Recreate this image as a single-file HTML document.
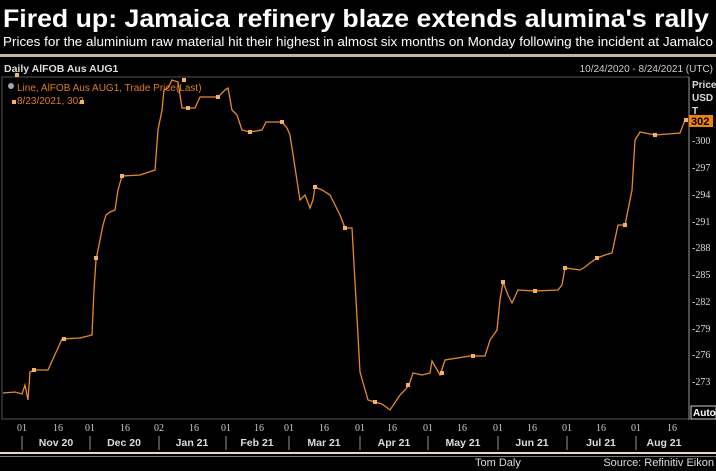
<!DOCTYPE html><html><head><style>
body{margin:0;width:716px;height:471px;background:#000;overflow:hidden;font-family:"Liberation Sans",sans-serif;color:#fff}
</style></head><body>
<svg width="716" height="471" viewBox="0 0 716 471" xmlns="http://www.w3.org/2000/svg" style="position:absolute;left:0;top:0">
<rect width="716" height="471" fill="#000"/>
<text x="3" y="27" font-size="25" font-weight="bold" fill="#fff" textLength="706" lengthAdjust="spacingAndGlyphs">Fired up: Jamaica refinery blaze extends alumina's rally</text>
<text x="3" y="46" font-size="12.5" fill="#fff" textLength="710" lengthAdjust="spacingAndGlyphs">Prices for the aluminium raw material hit their highest in almost six months on Monday following the incident at Jamalco</text>
<rect x="0" y="54" width="716" height="3" fill="#c8b49a"/>
<text x="4" y="72" font-size="10.5" font-weight="bold" fill="#ddd">Daily AlFOB Aus AUG1</text>
<text x="713" y="72" font-size="10" fill="#ccc" text-anchor="end">10/24/2020 - 8/24/2021 (UTC)</text>
<rect x="2" y="77" width="687" height="342" fill="none" stroke="#555" stroke-width="1"/>
<line x1="689" y1="77" x2="689" y2="420" stroke="#999"/>
<text x="17" y="91" font-size="10" fill="#e07b20">Line, AlFOB Aus AUG1, Trade Price(Last)</text>
<text x="17" y="104" font-size="10" fill="#e07b20">8/23/2021, 302</text>
<circle cx="11" cy="86" r="3" fill="#9ab"/>
<g font-size="10" fill="#ddd" font-weight="bold">
<text x="692" y="88">Price</text><text x="692" y="101">USD</text><text x="692" y="114">T</text>
</g>
<rect x="689" y="115" width="24" height="12" fill="#f0820f"/>
<text x="691" y="125" font-size="11" fill="#000" font-weight="bold">302</text>
<g font-size="10" fill="#ddd" font-family="Liberation Serif,serif">
<text x="692" y="144">-300</text><text x="692" y="171">-297</text><text x="692" y="198">-294</text><text x="692" y="225">-291</text><text x="692" y="251">-288</text><text x="692" y="278">-285</text><text x="692" y="305">-282</text><text x="692" y="332">-279</text><text x="692" y="358">-276</text><text x="692" y="385">-273</text>
</g>
<rect x="691" y="406" width="25" height="13" fill="#000" stroke="#ccc"/>
<text x="693" y="416" font-size="10" font-weight="bold" fill="#fff">Auto</text>
<polyline fill="none" stroke="#e8892c" stroke-width="1.3" points="3,393 15,392 22,394 25,385 28,400 30,372 35,370 48,370 62,339 80,338 92,335 94,290 96,260 100,240 103,225 106,215 110,212 115,210 118,190 122,176 140,175 155,170 158,130 162,110 164,90 168,88 172,80 178,82 182,108 195,108 200,97 218,97 225,90 228,88 232,110 237,115 242,130 250,132 262,130 266,122 282,122 287,128 290,135 300,200 305,195 310,208 313,200 315,187 322,190 330,195 340,215 345,228 352,228 360,372 368,400 375,402 382,404 390,410 400,395 405,390 409,385 413,373 422,375 430,373 432,361 440,375 445,360 470,356 485,356 490,340 497,330 500,300 503,282 508,295 512,303 518,290 535,291 558,290 562,285 565,268 580,270 585,267 590,263 597,258 605,255 612,253 618,225 625,225 632,190 635,140 640,132 655,135 680,133 685,120 688,120"/>
<g fill="#f3b06a">
<rect x="32" y="368" width="4" height="4"/><rect x="62" y="337" width="4" height="4"/><rect x="94" y="256" width="4" height="4"/><rect x="120" y="174" width="4" height="4"/><rect x="182" y="78" width="4" height="4"/><rect x="186" y="106" width="4" height="4"/><rect x="216" y="95" width="4" height="4"/><rect x="248" y="130" width="4" height="4"/><rect x="280" y="120" width="4" height="4"/><rect x="313" y="185" width="4" height="4"/><rect x="343" y="226" width="4" height="4"/><rect x="373" y="400" width="4" height="4"/><rect x="406" y="383" width="4" height="4"/><rect x="440" y="371" width="4" height="4"/><rect x="471" y="354" width="4" height="4"/><rect x="501" y="280" width="4" height="4"/><rect x="533" y="289" width="4" height="4"/><rect x="563" y="266" width="4" height="4"/><rect x="595" y="256" width="4" height="4"/><rect x="623" y="223" width="4" height="4"/><rect x="653" y="133" width="4" height="4"/><rect x="684" y="118" width="4" height="4"/><rect x="15" y="73" width="4" height="4"/><rect x="12" y="100" width="4" height="4"/><rect x="80" y="100" width="4" height="4"/>
</g>
<g font-size="10" fill="#ccc" font-family="Liberation Serif,serif" text-anchor="middle">
<text x="22" y="431">01</text><text x="58" y="431">16</text><text x="90" y="431">01</text><text x="125" y="431">16</text><text x="159" y="431">02</text><text x="194" y="431">16</text><text x="226" y="431">01</text><text x="259" y="431">16</text><text x="289" y="431">01</text><text x="324" y="431">16</text><text x="360" y="431">01</text><text x="392" y="431">16</text><text x="428" y="431">01</text><text x="462" y="431">16</text><text x="498" y="431">01</text><text x="532" y="431">16</text><text x="567" y="431">01</text><text x="601" y="431">16</text><text x="636" y="431">01</text><text x="672" y="431">16</text>
</g>
<g stroke="#999">
<line x1="22" y1="436" x2="22" y2="450"/><line x1="90" y1="436" x2="90" y2="450"/><line x1="159" y1="436" x2="159" y2="450"/><line x1="226" y1="436" x2="226" y2="450"/><line x1="289" y1="436" x2="289" y2="450"/><line x1="360" y1="436" x2="360" y2="450"/><line x1="428" y1="436" x2="428" y2="450"/><line x1="498" y1="436" x2="498" y2="450"/><line x1="567" y1="436" x2="567" y2="450"/><line x1="636" y1="436" x2="636" y2="450"/>
</g>
<g font-size="10.5" font-weight="bold" fill="#ddd" text-anchor="middle">
<text x="56" y="446">Nov 20</text><text x="124" y="446">Dec 20</text><text x="192" y="446">Jan 21</text><text x="257" y="446">Feb 21</text><text x="324" y="446">Mar 21</text><text x="394" y="446">Apr 21</text><text x="463" y="446">May 21</text><text x="532" y="446">Jun 21</text><text x="601" y="446">Jul 21</text><text x="664" y="446">Aug 21</text>
</g>
<rect x="0" y="452" width="716" height="2" fill="#e8d8c8"/>
<rect x="0" y="456" width="716" height="1" fill="#777"/>
<text x="475" y="466" font-size="11" fill="#ddd">Tom Daly</text>
<text x="714" y="466" font-size="11" fill="#ddd" text-anchor="end">Source: Refinitiv Eikon</text>
</svg>
</body></html>
